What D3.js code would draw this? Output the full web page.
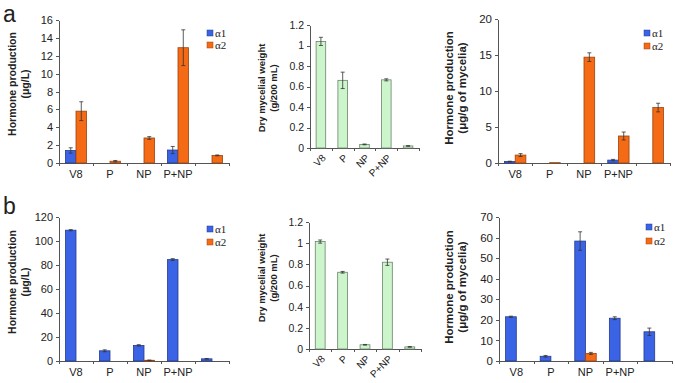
<!DOCTYPE html>
<html>
<head>
<meta charset="utf-8">
<script src="https://cdn.jsdelivr.net/npm/d3@7"></script>
<style>
  body { margin: 0; background: #fff; }
  svg { display: block; font-family: 'Liberation Sans', Arial, sans-serif; }
  .axis path, .axis line { stroke: #555; shape-rendering: crispEdges; }
  .axis text { fill: #222; }
  .title { font-weight: bold; fill: #222; }
  .legend text { font-family: 'Liberation Serif', 'Times New Roman', serif; fill: #222; }
</style>
</head>
<body>
<svg id="chart" width="675" height="383"></svg>
<script>
// categories on every x axis (last one has no label)
const categories = ['V8', 'P', 'NP', 'P+NP', ''];
const seriesNames = ['α1', 'α2'];

// panel a: hormone production (µg/L)
const aHormoneA1 = [1.4, 0, 0, 1.45, 0];
const aHormoneA1Err = [0.3, 0, 0, 0.4, 0];
const aHormoneA2 = [5.8, 0.2, 2.8, 12.9, 0.85];
const aHormoneA2Err = [1.05, 0.08, 0.15, 2.0, 0.05];
// panel a: dry mycelial weight (g/200 mL)
const aWeight = [1.04, 0.66, 0.035, 0.665, 0.02];
const aWeightErr = [0.04, 0.08, 0.004, 0.01, 0.003];
// panel a: hormone production (µg/g of mycelia)
const aYieldA1 = [0.2, 0, 0, 0.4, 0];
const aYieldA1Err = [0.05, 0, 0, 0.1, 0];
const aYieldA2 = [1.1, 0.05, 14.7, 3.75, 7.7];
const aYieldA2Err = [0.2, 0, 0.6, 0.55, 0.6];

// panel b
const bHormoneA1 = [109, 8.5, 13, 84.5, 1.8];
const bHormoneA1Err = [0.5, 0.8, 0.6, 0.8, 0.3];
const bHormoneA2 = [0, 0, 0.6, 0, 0];
const bHormoneA2Err = [0, 0, 0.2, 0, 0];
const bWeight = [1.015, 0.725, 0.04, 0.82, 0.02];
const bWeightErr = [0.015, 0.008, 0.003, 0.03, 0.003];
const bYieldA1 = [21.5, 2.3, 58.3, 20.8, 14.2];
const bYieldA1Err = [0.3, 0.4, 4.5, 0.7, 1.8];
const bYieldA2 = [0, 0, 3.7, 0, 0];
const bYieldA2Err = [0, 0, 0.5, 0, 0];

const blue = '#3b63e6', blueEdge = '#243c8c';
const orange = '#f56a15', orangeEdge = '#9c4410';
const green = '#ccf5cc', greenEdge = '#6b856b';

const svg = d3.select('#chart');

function drawPanel(cfg) {
    const w = cfg.right - cfg.left;
    const g = svg.append('g').attr('transform', `translate(${cfg.left},0)`);

    const y = d3.scaleLinear().domain([0, cfg.yMax]).range([cfg.bottom, cfg.top]);
    const pad = cfg.gap;
    const x0 = d3.scaleBand().domain(categories).range([0, w])
        .paddingInner(pad).paddingOuter(pad / 2);
    const names = cfg.series.map(s => s.name);
    const x1 = d3.scaleBand().domain(names).range([0, x0.bandwidth()]);

    // y axis
    g.append('g').attr('class', 'axis')
        .call(d3.axisLeft(y).tickValues(cfg.yTicks).tickFormat(cfg.fmt || d3.format('')).tickSize(3).tickSizeOuter(0).tickPadding(3))
        .style('font-size', cfg.tickSize + 'px');

    // x axis line with boundary ticks
    const xb = d3.scaleLinear().domain([0, categories.length]).range([0, w]);
    g.append('g').attr('class', 'axis')
        .attr('transform', `translate(0,${cfg.bottom})`)
        .call(d3.axisBottom(xb).tickValues(d3.range(categories.length + 1)).tickFormat('').tickSize(3).tickSizeOuter(0));

    // bars
    cfg.series.forEach(s => {
        const data = categories.map((c, i) => ({ c: c, v: s.values[i], e: s.errs[i] }));
        g.selectAll(null).data(data.filter(d => d.v > 0)).join('rect')
            .attr('x', d => x0(d.c) + x1(s.name))
            .attr('y', d => y(d.v))
            .attr('width', x1.bandwidth())
            .attr('height', d => y(0) - y(d.v))
            .attr('fill', s.color)
            .attr('stroke', s.edge)
            .attr('stroke-width', 0.8);

        const eb = data.filter(d => d.e > 0);
        const cx = d => x0(d.c) + x1(s.name) + x1.bandwidth() / 2;
        g.selectAll(null).data(eb).join('line')
            .attr('x1', cx).attr('x2', cx)
            .attr('y1', d => y(d.v + d.e)).attr('y2', d => y(Math.max(0, d.v - d.e)))
            .attr('stroke', '#333').attr('stroke-width', 0.8);
        ['+', '-'].forEach(sign => {
            g.selectAll(null).data(eb).join('line')
                .attr('x1', d => cx(d) - 2).attr('x2', d => cx(d) + 2)
                .attr('y1', d => y(sign === '+' ? d.v + d.e : Math.max(0, d.v - d.e)))
                .attr('y2', d => y(sign === '+' ? d.v + d.e : Math.max(0, d.v - d.e)))
                .attr('stroke', '#333').attr('stroke-width', 0.8);
        });
    });

    // category labels
    if (cfg.rotate) {
        g.selectAll(null).data(categories).join('text')
            .attr('transform', d => `translate(${x0(d) + x0.bandwidth() / 2 + 3},${cfg.bottom + 8}) rotate(-45)`)
            .attr('text-anchor', 'end')
            .attr('dy', '0.35em')
            .attr('fill', '#222')
            .style('font-size', cfg.labelSize + 'px')
            .text(d => d);
    } else {
        const lab = g.append('g').attr('class', 'axis')
            .attr('transform', `translate(0,${cfg.bottom})`)
            .call(d3.axisBottom(x0).tickSize(0).tickPadding(7))
            .style('font-size', cfg.labelSize + 'px');
        lab.select('.domain').remove();
    }

    // axis title
    cfg.title.forEach((t, i) => {
        svg.append('text').attr('class', 'title')
            .attr('transform', `translate(${cfg.titleX[i]},${cfg.titleY}) rotate(-90)`)
            .attr('text-anchor', 'middle')
            .style('font-size', cfg.titleSize + 'px')
            .text(t);
    });

    // legend
    if (cfg.legend) {
        const lg = svg.append('g').attr('class', 'legend')
            .attr('transform', `translate(${cfg.legend[0]},${cfg.legend[1]})`);
        cfg.series.forEach((s, i) => {
            lg.append('rect').attr('x', 0).attr('y', i * cfg.legend[2] - 3)
                .attr('width', 6).attr('height', 6)
                .attr('fill', s.color).attr('stroke', s.edge).attr('stroke-width', 0.5);
            lg.append('text').attr('x', 8).attr('y', i * cfg.legend[2] + 4)
                .style('font-size', '11px').text(s.name);
        });
    }
}

function twoSeries(v1, e1, v2, e2) {
    return [
        { name: seriesNames[0], values: v1, errs: e1, color: blue, edge: blueEdge },
        { name: seriesNames[1], values: v2, errs: e2, color: orange, edge: orangeEdge }
    ];
}
function oneSeries(v, e) {
    return [{ name: 'w', values: v, errs: e, color: green, edge: greenEdge }];
}

// row a
drawPanel({ left: 59, right: 229, top: 20, bottom: 163, yMax: 16, yTicks: d3.range(0, 17, 2),
    gap: 0.38, tickSize: 11, labelSize: 11,
    series: twoSeries(aHormoneA1, aHormoneA1Err, aHormoneA2, aHormoneA2Err),
    title: ['Hormone production', '(μg/L)'], titleX: [16, 29], titleY: 84, titleSize: 10.5,
    legend: [207, 33, 12] });
drawPanel({ left: 310, right: 419, top: 25, bottom: 148, yMax: 1.2, yTicks: d3.range(0, 1.21, 0.2),
    fmt: d => +d.toFixed(1), gap: 0.56, tickSize: 10.5, labelSize: 10, rotate: true,
    series: oneSeries(aWeight, aWeightErr),
    title: ['Dry mycelial weight', '(g/200 mL)'], titleX: [265, 277], titleY: 88, titleSize: 9.5 });
drawPanel({ left: 498, right: 670, top: 19, bottom: 163, yMax: 20, yTicks: d3.range(0, 21, 5),
    gap: 0.38, tickSize: 11.5, labelSize: 11,
    series: twoSeries(aYieldA1, aYieldA1Err, aYieldA2, aYieldA2Err),
    title: ['Hormone production', '(μg/g of mycelia)'], titleX: [453, 466], titleY: 88, titleSize: 11.5,
    legend: [644, 33, 13] });

// row b
drawPanel({ left: 59, right: 229, top: 217, bottom: 361, yMax: 120, yTicks: d3.range(0, 121, 20),
    gap: 0.38, tickSize: 11, labelSize: 11,
    series: twoSeries(bHormoneA1, bHormoneA1Err, bHormoneA2, bHormoneA2Err),
    title: ['Hormone production', '(μg/L)'], titleX: [16, 29], titleY: 282, titleSize: 10.5,
    legend: [207, 229, 13] });
drawPanel({ left: 309, right: 421, top: 222, bottom: 349, yMax: 1.2, yTicks: d3.range(0, 1.21, 0.2),
    fmt: d => +d.toFixed(1), gap: 0.56, tickSize: 10.5, labelSize: 10, rotate: true,
    series: oneSeries(bWeight, bWeightErr),
    title: ['Dry mycelial weight', '(g/200 mL)'], titleX: [265, 277], titleY: 278, titleSize: 9.5 });
drawPanel({ left: 499, right: 672, top: 217, bottom: 361, yMax: 70, yTicks: d3.range(0, 71, 10),
    gap: 0.38, tickSize: 11.5, labelSize: 11,
    series: twoSeries(bYieldA1, bYieldA1Err, bYieldA2, bYieldA2Err),
    title: ['Hormone production', '(μg/g of mycelia)'], titleX: [453, 466], titleY: 287, titleSize: 11.5,
    legend: [646, 227, 14] });

// panel letters
svg.append('text').attr('x', 3).attr('y', 22).style('font-size', '23px').attr('fill', '#222').text('a');
svg.append('text').attr('x', 3).attr('y', 214).style('font-size', '23px').attr('fill', '#222').text('b');
</script>
</body>
</html>
